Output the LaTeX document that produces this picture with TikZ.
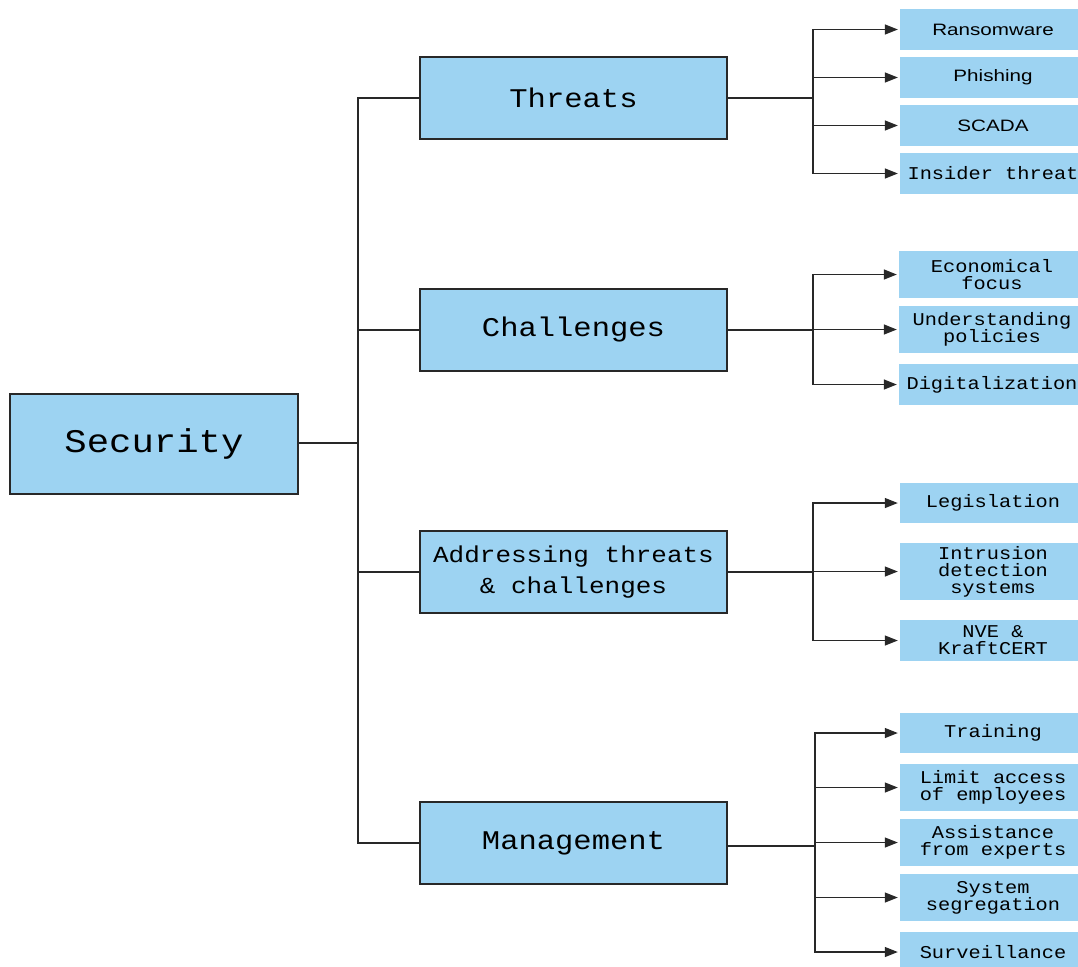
\documentclass[tikz,border=0pt]{standalone}
\usepackage{fontspec}
\usetikzlibrary{arrows.meta}
\newfontfamily\monof[FakeStretch=1.13]{Liberation Mono}
\newfontfamily\sansf[FakeStretch=1.25]{Liberation Sans}
\definecolor{boxblue}{RGB}{157,211,242}
\definecolor{edge}{RGB}{40,40,40}
\tikzset{
  mainbox/.style={draw=edge, line width=1.3pt, fill=boxblue, minimum width=307pt, minimum height=82pt, inner sep=0pt, align=center, font=\monof\fontsize{27}{31}\selectfont},
  leafbox/.style={fill=boxblue, minimum width=186pt, inner sep=0pt, align=center, font=\monof\fontsize{18}{17}\selectfont},
  sleaf/.style={leafbox, font=\sansf\fontsize{16.5}{17}\selectfont},
  conn/.style={draw=edge, line width=1.3pt},
  arr/.style={conn, -{Triangle[length=13pt,width=10pt]}, shorten >=2pt}
}
\begin{document}
\begin{tikzpicture}[x=1pt,y=-1pt]
\useasboundingbox (0,0) rectangle (1078,966);
\clip (0,0) rectangle (1078,966);
% main nodes
\node[mainbox, minimum width=288pt, minimum height=100pt, font=\monof\fontsize{33}{36}\selectfont] (sec) at (154,444) {Security};
\node[mainbox] (thr) at (573.5,98) {Threats};
\node[mainbox] (cha) at (573.5,330) {Challenges};
\node[mainbox, font=\monof\fontsize{23}{31}\selectfont] (add) at (573.5,572) {Addressing threats\\\& challenges};
\node[mainbox] (man) at (573.5,843) {Management};
% leaves
\node[sleaf, minimum height=41pt] (l1) at (993,29.5) {Ransomware};
\node[sleaf, minimum height=41pt] (l2) at (993,77.5) {Phishing};
\node[sleaf, minimum height=41pt] (l3) at (993,125.5) {SCADA};
\node[leafbox, minimum height=41pt] (l4) at (993,173.5) {Insider threat};
\node[leafbox, minimum height=47pt] (c1) at (992,274.5) {Economical\\focus};
\node[leafbox, minimum height=47pt] (c2) at (992,329.5) {Understanding\\policies};
\node[leafbox, minimum height=41pt] (c3) at (992,384.5) {Digitalization};
\node[leafbox, minimum height=40pt] (a1) at (993,503) {Legislation};
\node[leafbox, minimum height=57pt] (a2) at (993,571.5) {Intrusion\\detection\\systems};
\node[leafbox, minimum height=41pt] (a3) at (993,640.5) {NVE \&\\KraftCERT};
\node[leafbox, minimum height=40pt] (m1) at (993,733) {Training};
\node[leafbox, minimum height=47pt] (m2) at (993,787.5) {Limit access\\of employees};
\node[leafbox, minimum height=47pt] (m3) at (993,842.5) {Assistance\\from experts};
\node[leafbox, minimum height=47pt] (m4) at (993,897.5) {System\\segregation};
\node[leafbox, minimum height=40pt] (m5) at (993,952) {Surveillance};
% spine on the left
\coordinate (sp) at (358,443);
\draw[conn] (sec.east |- sp) -- (sp);
\draw[conn] (sp) |- (thr.west);
\draw[conn] (sp) |- (cha.west);
\draw[conn] (sp) |- (add.west);
\draw[conn] (sp) |- (man.west);
% branches on the right
\coordinate (bt) at (813,98);
\coordinate (bc) at (813,330);
\coordinate (ba) at (813,572);
\coordinate (bm) at (815,846);
\draw[conn] (thr.east) -- (bt);
\draw[conn] (cha.east) -- (bc);
\draw[conn] (add.east) -- (ba);
\draw[conn] (man.east |- bm) -- (bm);
\foreach \l in {l1,l2,l3,l4} \draw[arr] (bt) |- (\l.west);
\foreach \l in {c1,c2,c3} \draw[arr] (bc) |- (\l.west);
\foreach \l in {a1,a2,a3} \draw[arr] (ba) |- (\l.west);
\foreach \l in {m1,m2,m3,m4,m5} \draw[arr] (bm) |- (\l.west);
\end{tikzpicture}
\end{document}
